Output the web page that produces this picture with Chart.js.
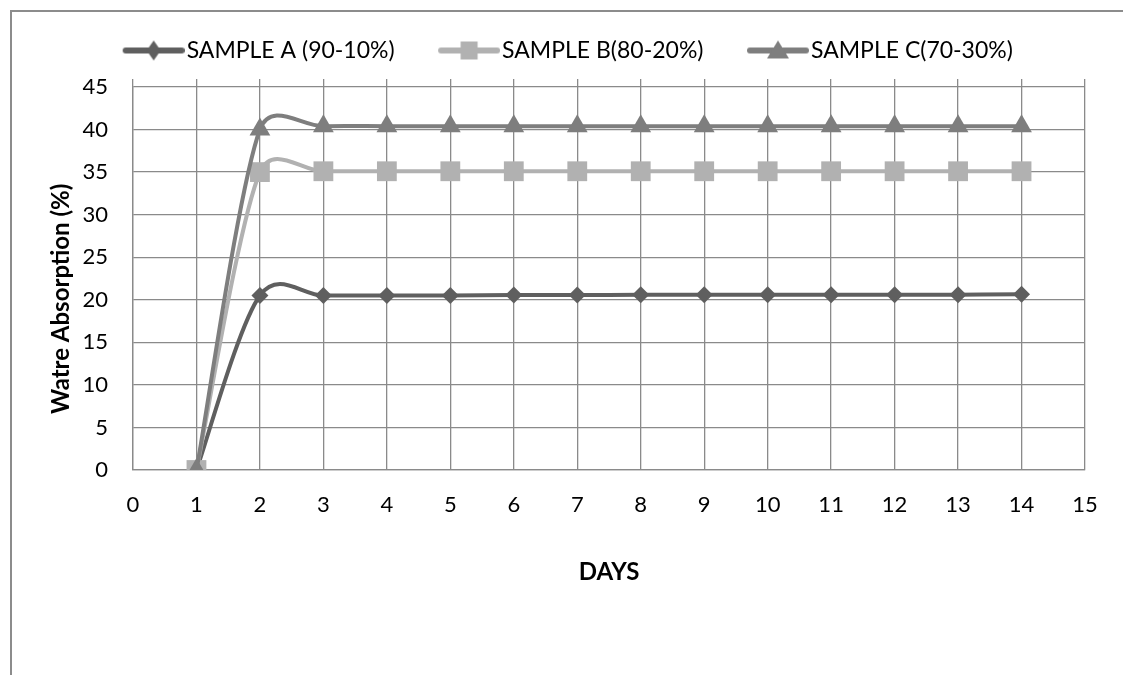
<!DOCTYPE html>
<html>
<head>
<meta charset="utf-8">
<script src="https://cdn.jsdelivr.net/npm/chart.js@4.4.0/dist/chart.umd.min.js"></script>
<style>
  html, body { margin: 0; padding: 0; background: #fff; }
  #wrap { position: relative; width: 1123px; height: 675px; }
</style>
</head>
<body>
<div id="wrap"><canvas id="chart" width="1123" height="675"></canvas></div>
<script>
// values
const days = [1, 2, 3, 4, 5, 6, 7, 8, 9, 10, 11, 12, 13, 14];
const sampleA = [0, 20.5, 20.5, 20.5, 20.5, 20.55, 20.55, 20.6, 20.6, 20.6, 20.6, 20.6, 20.6, 20.65];
const sampleB = [0, 35, 35.1, 35.1, 35.1, 35.1, 35.1, 35.1, 35.1, 35.1, 35.1, 35.1, 35.1, 35.1];
const sampleC = [0, 40, 40.4, 40.4, 40.4, 40.4, 40.4, 40.4, 40.4, 40.4, 40.4, 40.4, 40.4, 40.4];
const seriesNames = ['SAMPLE A (90-10%)', 'SAMPLE B(80-20%)', 'SAMPLE C(70-30%)'];
const xTicks = { min: 0, max: 15, step: 1 };
const yTicks = { min: 0, max: 45, step: 5 };

const FONT = 'Lato';
const gridColor = '#8a8a8a';

// legend swatch: line with the marker in the middle. The canvas is a bit wider
// than the legend box and the line sits on its right, so the gaps come out
// like the original (short gap to the text, wide gap to the previous item).
function legendIcon(color, style) {
  const c = document.createElement('canvas');
  c.width = 109; c.height = 24;
  const g = c.getContext('2d');
  g.strokeStyle = color; g.fillStyle = color;
  g.lineWidth = 6; g.lineCap = 'round';
  g.beginPath(); g.moveTo(50, 12); g.lineTo(106, 12); g.stroke();
  const cx = 78, cy = 12;
  g.beginPath();
  if (style === 'rectRot') {
    g.moveTo(cx, cy - 10); g.lineTo(cx + 7, cy); g.lineTo(cx, cy + 10); g.lineTo(cx - 7, cy);
  } else if (style === 'rect') {
    g.rect(cx - 8.5, cy - 9, 17, 18);
  } else {
    g.moveTo(cx, cy - 10); g.lineTo(cx + 11, cy + 8); g.lineTo(cx - 11, cy + 8);
  }
  g.closePath(); g.fill();
  return c;
}

const colors = ['#5f5f5f', '#b1b1b1', '#7e7e7e'];
const styles = ['rectRot', 'rect', 'triangle'];
const radii = [8.5, 14, 12];
const icons = colors.map((c, i) => legendIcon(c, styles[i]));

function makeSet(i, values, order) {
  return {
    label: seriesNames[i],
    data: days.map((d, k) => ({ x: d, y: values[k] })),
    borderColor: colors[i], backgroundColor: colors[i],
    pointBackgroundColor: colors[i], pointBorderColor: colors[i],
    pointStyle: styles[i], pointRadius: radii[i], pointBorderWidth: 0,
    borderWidth: 4, tension: 0.4, fill: false, order
  };
}

// Excel style smoothing: tangent = (next - prev) / 6, each handle kept to at
// most half of its own segment, which is what keeps the overshoot after the
// big jump small.
function clampHandle(dx, dy, maxLen) {
  const len = Math.hypot(dx, dy);
  if (len <= maxLen || len === 0) return [dx, dy];
  const k = maxLen / len;
  return [dx * k, dy * k];
}

const excelSmooth = {
  id: 'excelSmooth',
  beforeDatasetDraw(chart, args) {
    const meta = args.meta;
    meta.dataset.updateControlPoints(chart.chartArea, meta.iScale.axis);
    const pts = meta.data;
    const n = pts.length;
    pts.forEach((p, i) => {
      const prev = pts[Math.max(i - 1, 0)], next = pts[Math.min(i + 1, n - 1)];
      const dx = (next.x - prev.x) / 6, dy = (next.y - prev.y) / 6;
      const back = clampHandle(dx, dy, Math.hypot(p.x - prev.x, p.y - prev.y) / 2);
      const fwd = clampHandle(dx, dy, Math.hypot(next.x - p.x, next.y - p.y) / 2);
      p.cp1x = p.x - back[0]; p.cp1y = p.y - back[1];
      p.cp2x = p.x + fwd[0]; p.cp2y = p.y + fwd[1];
    });
  }
};

const frame = {
  id: 'frame',
  beforeDraw(chart) {
    const { ctx } = chart;
    ctx.save();
    ctx.fillStyle = '#fff';
    ctx.fillRect(0, 0, chart.width, chart.height);
    ctx.strokeStyle = '#8c8c8c';
    ctx.lineWidth = 2;
    ctx.strokeRect(11, 11, 1400, 1000);
    ctx.restore();
  }
};

new Chart(document.getElementById('chart'), {
  type: 'line',
  data: { datasets: [makeSet(0, sampleA, 2), makeSet(1, sampleB, 1), makeSet(2, sampleC, 0)] },
  options: {
    responsive: false, animation: false,
    layout: { padding: { top: 33, left: 13, right: 38, bottom: 85 } },
    plugins: {
      tooltip: { enabled: false },
      legend: {
        position: 'top',
        labels: {
          usePointStyle: true, pointStyleWidth: 90, padding: 6,
          font: { family: FONT, size: 23 }, color: '#000',
          sort: (a, b) => a.datasetIndex - b.datasetIndex,
          generateLabels: (chart) => chart.data.datasets.map((ds, i) => ({
            text: ds.label, pointStyle: icons[i], datasetIndex: i,
            fillStyle: ds.borderColor, strokeStyle: ds.borderColor, lineWidth: 0, hidden: false
          }))
        }
      }
    },
    scales: {
      x: {
        type: 'linear', min: xTicks.min, max: xTicks.max,
        ticks: { stepSize: xTicks.step, padding: 22, color: '#000', font: { family: FONT, size: 22 } },
        grid: { color: gridColor, lineWidth: 1.3, drawTicks: false },
        border: { color: gridColor, width: 1.3 },
        title: { display: true, text: 'DAYS', color: '#000', font: { family: FONT, size: 24, weight: 'bold' }, padding: { top: 0, bottom: 3 } },
        afterFit: (s) => { s.height = 120; }
      },
      xTop: {
        type: 'linear', position: 'top', min: xTicks.min, max: xTicks.max,
        ticks: { stepSize: xTicks.step, display: false },
        grid: { color: gridColor, lineWidth: 1.3, drawOnChartArea: false, drawTicks: true, tickLength: 8 },
        border: { display: false },
        afterFit: (s) => { s.height = 15; }
      },
      y: {
        min: yTicks.min, max: yTicks.max,
        ticks: { stepSize: yTicks.step, padding: 25, color: '#000', font: { family: FONT, size: 22 } },
        grid: { color: gridColor, lineWidth: 1.3, drawTicks: false },
        border: { color: gridColor, width: 1.3 },
        title: { display: true, text: 'Watre Absorption (%)       ', color: '#000', font: { family: FONT, size: 24, weight: 'bold' }, padding: { top: 34, bottom: 0 } },
        afterFit: (s) => { s.width = 120; }
      }
    }
  },
  plugins: [excelSmooth, frame]
});
</script>
</body>
</html>
